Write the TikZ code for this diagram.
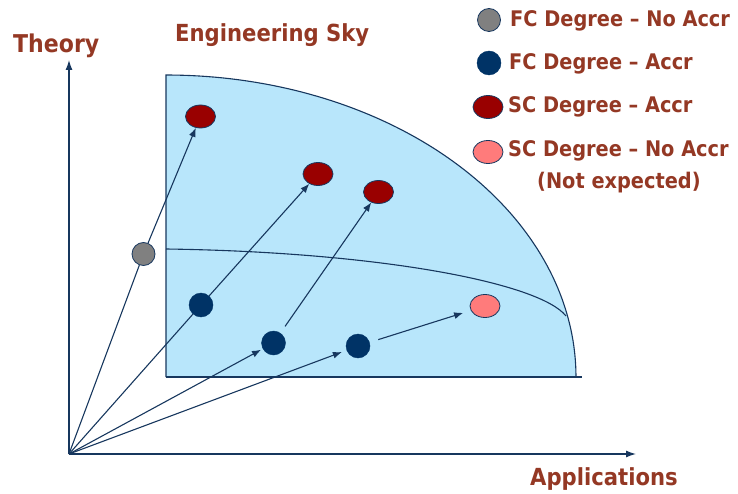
\documentclass[tikz,border=0pt]{standalone}
\usepackage{fontspec}
\setmainfont{DejaVu Sans}[FakeStretch=0.9]
\usetikzlibrary{arrows.meta,shapes.geometric}
\definecolor{navy}{HTML}{003366}
\definecolor{lineblue}{HTML}{17375E}
\definecolor{skyfill}{HTML}{B8E6FB}
\definecolor{darkred}{HTML}{990000}
\definecolor{salmon}{HTML}{FF7B7B}
\definecolor{dotgrey}{HTML}{808080}
\definecolor{labelbrown}{HTML}{943824}
\begin{document}
\begin{tikzpicture}[x=1pt,y=-1pt,
  conn/.style={draw=lineblue,line width=1.1pt},
  tip/.style={-{Latex[length=9pt,width=7pt]}},
  axis/.style={draw=lineblue,line width=1.3pt,-{Latex[length=10pt,width=7pt]}},
  rim/.style={draw=lineblue,line width=1.1pt},
  greydot/.style={circle,draw=lineblue,line width=0.8pt,fill=dotgrey,minimum size=23pt,inner sep=0pt},
  navydot/.style={circle,draw=navy,fill=navy,minimum size=24pt,inner sep=0pt},
  reddot/.style={ellipse,draw=lineblue,line width=0.8pt,fill=darkred,minimum width=30pt,minimum height=23pt,inner sep=0pt},
  pinkdot/.style={ellipse,draw=lineblue,line width=0.8pt,fill=salmon,minimum width=30pt,minimum height=23pt,inner sep=0pt},
  lbl/.style={text=labelbrown,font=\bfseries,inner sep=0pt,anchor=base west},
]
\useasboundingbox (0,0) rectangle (738,494);

% the "engineering sky": a quarter ellipse region
\fill[skyfill] (166,377) -- plot[domain=90:0,samples=80] ({166+410*cos(\x)},{377-302*sin(\x)}) -- cycle;
\draw[rim] (166,377) -- (166,75) -- plot[domain=90:0,samples=80] ({166+410*cos(\x)},{377-302*sin(\x)});
\draw[rim] (166,377) -- (582,377);
% boundary between first- and second-cycle territory
\draw[rim] (166,249) .. controls (380,252) and (540,283) .. (566,316);

% axes
\coordinate (O) at (69,454);
\coordinate (ytip) at (69,60);
\coordinate (xtip) at (636,454);
\draw[axis] (O) -- (ytip);
\draw[axis] (O) -- (xtip);

% degree positions
\node[greydot] (g)  at (143.5,254) {};
\node[navydot] (n1) at (201,305) {};
\node[navydot] (n2) at (273.5,343) {};
\node[navydot] (n3) at (358,346) {};
\node[reddot]  (r1) at (200.5,116.5) {};
\node[reddot]  (r2) at (318,174) {};
\node[reddot]  (r3) at (378.5,192) {};
\node[pinkdot] (p1) at (485,306) {};

% paths
\draw[conn] (O) -- (g);
\draw[conn,tip] (g) -- (r1);
\draw[conn] (O) -- (n1);
\draw[conn,tip] (n1) -- (r2);
\draw[conn,tip,shorten >=2pt] (O) -- (n2);
\draw[conn,tip,shorten >=5pt] (O) -- (n3);
\draw[conn,tip,shorten <=8pt] (n2) -- (r3);
\draw[conn,tip,shorten <=9pt,shorten >=8pt] (n3) -- (p1);

% titles
\node[lbl,font=\bfseries\fontsize{24.5}{28}\selectfont] (theory) at (13,53) {Theory};
\node[lbl,font=\bfseries\fontsize{23.5}{28}\selectfont] (sky) at (175,42) {Engineering Sky};
\node[lbl,font=\bfseries\fontsize{23.5}{28}\selectfont] (apps) at (530,485) {Applications};

% legend
\node[greydot] (lg) at (489,20) {};
\node[navydot] (ln) at (489,63) {};
\node[reddot]  (lr) at (488,107) {};
\node[pinkdot] (lp) at (488,152) {};
\node[lbl,font=\bfseries\fontsize{21.5}{26}\selectfont] (tg) at (510,27) {FC Degree – No Accr};
\node[lbl,font=\bfseries\fontsize{21.5}{26}\selectfont] (tn) at (509,70) {FC Degree – Accr};
\node[lbl,font=\bfseries\fontsize{21.5}{26}\selectfont] (tr) at (508,113) {SC Degree – Accr};
\node[lbl,font=\bfseries\fontsize{21.5}{26}\selectfont] (tp) at (508,157) {SC Degree – No Accr};
\node[lbl,font=\bfseries\fontsize{21.5}{26}\selectfont] (tx) at (537,189) {(Not expected)};
\end{tikzpicture}
\end{document}
